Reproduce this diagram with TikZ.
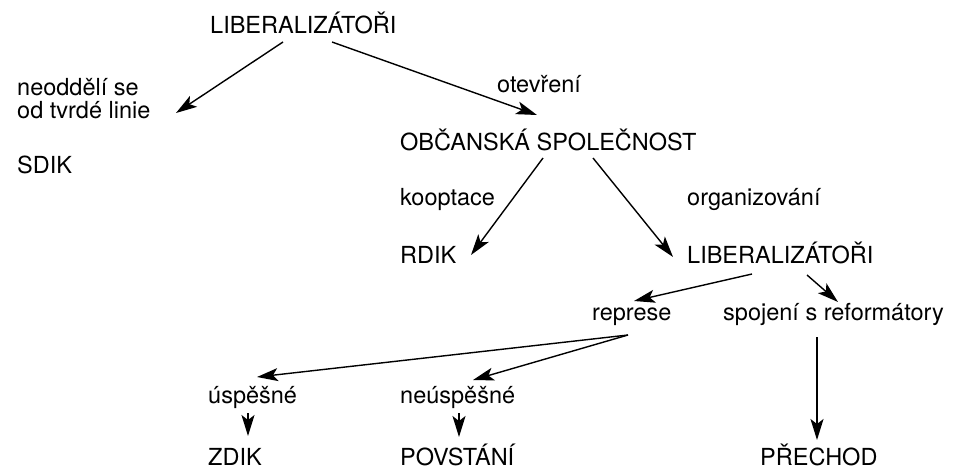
\documentclass[tikz,border=0pt]{standalone}
\usepackage{fontspec}
\setmainfont{TeX Gyre Heros}
\usetikzlibrary{arrows.meta}
\begin{document}
\begin{tikzpicture}[x=1pt,y=-1pt,
  lbl/.style={anchor=base west, inner sep=0pt, font=\fontsize{23.5}{25}\selectfont},
  arr/.style={line width=1.4pt, -{Stealth[length=21pt,width=13pt,inset=5pt]}}]
\useasboundingbox (0,0) rectangle (953,469);
% texts
\node[lbl] (lib1) at (210,33) {LIBERALIZÁTOŘI};
\node[lbl] (neodA) at (17,95) {neoddělí se};
\node[lbl] (neodB) at (17,118) {od tvrdé linie};
\node[lbl] (sdik) at (17,173) {SDIK};
\node[lbl] (otev) at (497,92) {otevření};
\node[lbl] (obc) at (400,150) {OBČANSKÁ SPOLEČNOST};
\node[lbl] (koop) at (400,205) {kooptace};
\node[lbl] (org) at (687,205) {organizování};
\node[lbl] (rdik) at (400,263) {RDIK};
\node[lbl] (lib2) at (687,263) {LIBERALIZÁTOŘI};
\node[lbl] (repr) at (592,320) {represe};
\node[lbl] (spoj) at (723,320) {spojení s reformátory};
\node[lbl] (usp) at (208,403) {úspěšné};
\node[lbl] (neusp) at (400,403) {neúspěšné};
\node[lbl] (zdik) at (208,465) {ZDIK};
\node[lbl] (povst) at (400,465) {POVSTÁNÍ};
\node[lbl] (prech) at (760,465) {PŘECHOD};
% connector ends
\coordinate (l1a) at (283,42);  \coordinate (l1b) at (332,42);
\coordinate (neodT) at (176,113);
\coordinate (obcT) at (537,115);
\coordinate (obcA) at (543,158); \coordinate (obcB) at (593,158);
\coordinate (rdikT) at (471,255);
\coordinate (lib2T) at (673,257);
\coordinate (l2a) at (752,274); \coordinate (l2b) at (807,275);
\coordinate (reprT) at (634,301);
\coordinate (spojT) at (838,302);
\coordinate (spojS) at (817,337);
\coordinate (prechT) at (817,440);
\coordinate (reprS) at (628,335);
\coordinate (uspT) at (257,377);
\coordinate (neuspT) at (473,380);
\coordinate (uspS) at (248,413); \coordinate (zdikT) at (248,436);
\coordinate (neuspS) at (459,413); \coordinate (povstT) at (459,437);
% connectors
\draw[arr] (l1a) -- (neodT);
\draw[arr] (l1b) -- (obcT);
\draw[arr] (obcA) -- (rdikT);
\draw[arr] (obcB) -- (lib2T);
\draw[arr] (l2a) -- (reprT);
\draw[arr] (l2b) -- (spojT);
\draw[arr] (spojS) -- (prechT);
\draw[arr] (reprS) -- (uspT);
\draw[arr] (reprS) -- (neuspT);
\draw[arr] (uspS) -- (zdikT);
\draw[arr] (neuspS) -- (povstT);
\end{tikzpicture}
\end{document}
